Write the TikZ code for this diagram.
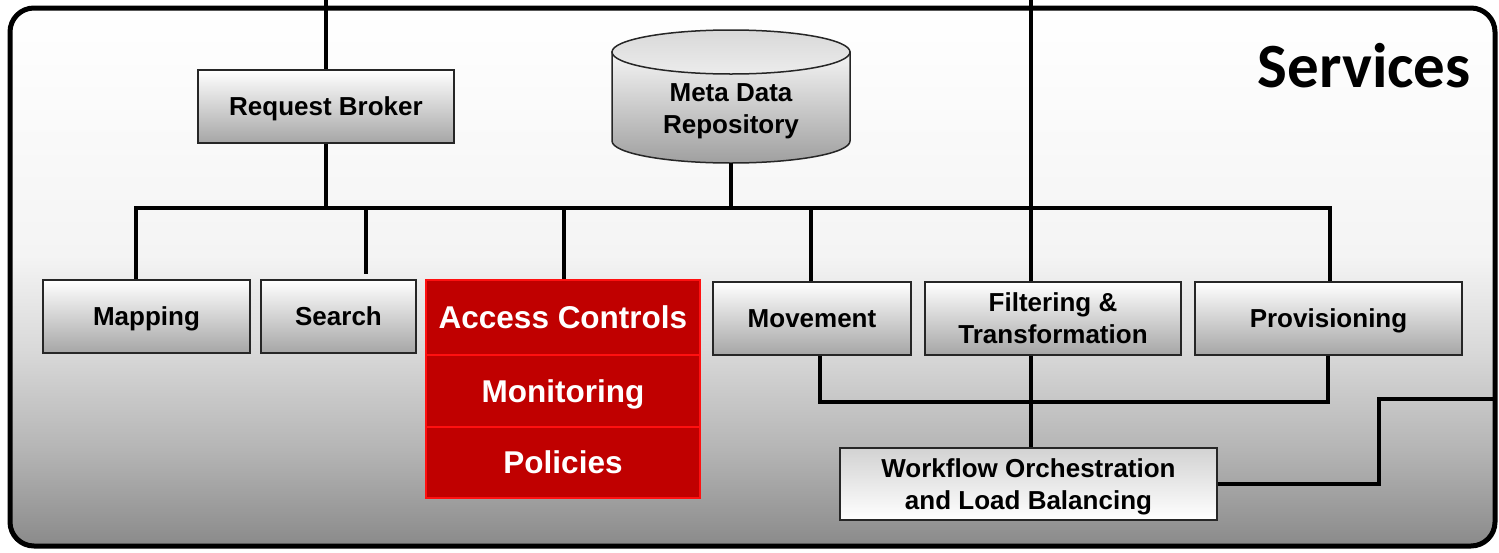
\documentclass[tikz,border=0pt]{standalone}
\usepackage{fontspec}
\setmainfont{Liberation Sans}
\newfontfamily\svcfont{Carlito}
\usetikzlibrary{calc}
\definecolor{gz}{HTML}{8A8A8A}
\definecolor{ga}{HTML}{B5B5B5}
\definecolor{gb}{HTML}{D8D8D8}
\definecolor{gc}{HTML}{F4F4F4}
\definecolor{accred}{HTML}{C00000}
\definecolor{accedge}{HTML}{FF1010}
\pgfdeclareverticalshading{bgsh}{100bp}{color(0bp)=(gz); color(25bp)=(gz); color(34bp)=(ga); color(43bp)=(gb); color(52bp)=(gc); color(75bp)=(white); color(100bp)=(white)}
\tikzset{
  svcbox/.style={draw=black!85, line width=1.5pt, top color=white, bottom color=gray!70,
    minimum height=73pt, inner sep=0pt, align=center, text depth=0pt, font=\bfseries\fontsize{26}{32}\selectfont},
  redbox/.style={draw=accedge, line width=1.5pt, fill=accred, text=white, inner sep=0pt, text depth=0pt,
    minimum width=274pt, align=center, font=\bfseries\fontsize{31.5}{36}\selectfont},
  conn/.style={line width=3.5pt, draw=black},
}
\begin{document}
\begin{tikzpicture}[x=1pt,y=-1pt]
\useasboundingbox (0,0) rectangle (1499,552);
% background
\path[shading=bgsh] [rounded corners=24pt] (10,8) rectangle (1495,546);
\draw[line width=5pt, rounded corners=24pt] (10,8) rectangle (1495,546);
\node[anchor=base east, inner sep=0pt, font=\svcfont\bfseries\fontsize{63}{72}\selectfont] (svc) at (1471,87) {Services};
% cylinder
\path[top color=gray!8, bottom color=gray!75, draw=black!85, line width=1.5pt]
  (612,52) -- (612,141) arc[start angle=180, end angle=360, x radius=119pt, y radius=22pt] -- (850,52) -- cycle;
\path[top color=gray!30, bottom color=gray!15, draw=black!85, line width=1.5pt]
  (731,52) ellipse [x radius=119pt, y radius=22pt];
\node[inner sep=0pt, align=center, text depth=0pt, font=\bfseries\fontsize{26}{32}\selectfont] (mdr) at (731,109) {Meta Data\\Repository};
\coordinate (mdrb) at (731,163);
% boxes
\node[svcbox, minimum width=256pt] (rb) at (326,106.5) {Request Broker};
\node[svcbox, minimum width=207pt] (map) at (146.5,316.5) {Mapping};
\node[svcbox, minimum width=155pt] (srch) at (338.5,316.5) {Search};
\node[redbox, minimum height=75pt] (ac) at (563,317.5) {Access Controls};
\node[redbox, minimum height=72pt] (mon) at (563,391) {Monitoring};
\node[redbox, minimum height=71pt] (pol) at (563,462.5) {Policies};
\node[svcbox, minimum width=198pt] (mov) at (812,318.5) {Movement};
\node[svcbox, minimum width=256pt] (ft) at (1053,318.5) {Filtering \&\\Transformation};
\node[svcbox, minimum width=267pt] (prov) at (1328.5,318.5) {Provisioning};
\node[svcbox, minimum width=377pt, minimum height=72pt, top color=gray!35, bottom color=white] (wf) at (1028.5,484) {Workflow Orchestration\\and Load Balancing};
% coordinates
\coordinate (top1) at (326,0);
\coordinate (top2) at (1031,0);
\coordinate (busL) at (136,208);
\coordinate (busR) at (1330,208);
\coordinate (b2) at (366,208);
\coordinate (b3) at (564,208);
\coordinate (b4) at (811,208);
\coordinate (l1) at (820,402);
\coordinate (l2) at (1328,402);
\coordinate (r1) at (1379,399);
\coordinate (r2) at (1495,399);
% connectors
\draw[conn] (top1) -- (rb.north);
\draw[conn] (rb.south) -- (rb.south |- busL);
\draw[conn] (mdrb) -- (mdrb |- busL);
\draw[conn] (busL |- map.north) -- (busL) -- (busR) -- (busR |- prov.north);
\draw[conn] (b2) -- ([yshift=5pt]b2 |- srch.north);
\draw[conn] (b3) -- (b3 |- ac.north);
\draw[conn] (b4) -- (b4 |- mov.north);
\draw[conn] (top2) -- (top2 |- ft.north);
\draw[conn] (top2 |- ft.south) -- (top2 |- wf.north);
\draw[conn] (l1 |- mov.south) -- (l1) -- (l2) -- (l2 |- prov.south);
\draw[conn] (wf.east) -| (r1) -- (r2);
\end{tikzpicture}
\end{document}
